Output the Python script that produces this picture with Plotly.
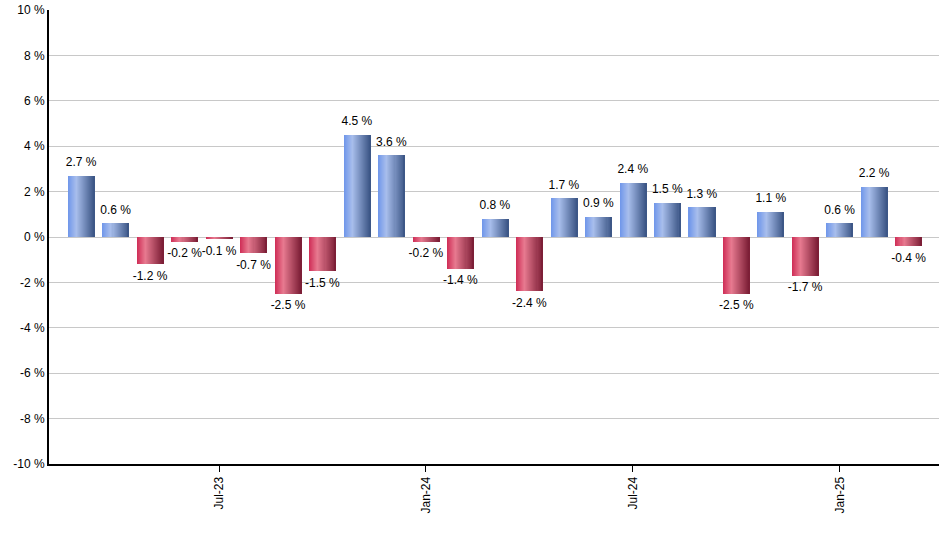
import plotly.graph_objects as go

months = ["Mar-23", "Apr-23", "May-23", "Jun-23", "Jul-23", "Aug-23", "Sep-23", "Oct-23",
          "Nov-23", "Dec-23", "Jan-24", "Feb-24", "Mar-24", "Apr-24", "May-24", "Jun-24",
          "Jul-24", "Aug-24", "Sep-24", "Oct-24", "Nov-24", "Dec-24", "Jan-25", "Feb-25", "Mar-25"]
returns = [2.7, 0.6, -1.2, -0.2, -0.1, -0.7, -2.5, -1.5, 4.5, 3.6, -0.2, -1.4, 0.8,
           -2.4, 1.7, 0.9, 2.4, 1.5, 1.3, -2.5, 1.1, -1.7, 0.6, 2.2, -0.4]
tick_months = ["Jul-23", "Jan-24", "Jul-24", "Jan-25"]
y_ticks = [-10, -8, -6, -4, -2, 0, 2, 4, 6, 8, 10]
y_tick_text = ["%d %%" % v for v in y_ticks]

blue_stops = [(0.0, (111, 150, 234)), (0.32, (168, 190, 236)), (1.0, (58, 84, 132))]
red_stops = [(0.0, (206, 44, 86)), (0.32, (231, 122, 144)), (1.0, (122, 28, 52))]


def grad(stops, t):
    for (t0, c0), (t1, c1) in zip(stops[:-1], stops[1:]):
        if t0 <= t <= t1:
            f = (t - t0) / (t1 - t0)
            c = [round(a + (b - a) * f) for a, b in zip(c0, c1)]
            return "rgb(%d,%d,%d)" % tuple(c)
    return "rgb(%d,%d,%d)" % stops[-1][1]


fig = go.Figure()
N = 26
W = 0.77
sw = W / N
for i in range(N):
    t = (i + 0.5) / N
    colors = [grad(blue_stops, t) if v >= 0 else grad(red_stops, t) for v in returns]
    width = sw if i == N - 1 else sw * 2.2
    fig.add_trace(go.Bar(
        x=months, y=returns,
        width=[width] * len(months),
        offset=[-W / 2 + i * sw] * len(months),
        marker=dict(color=colors, line=dict(width=0)),
        hoverinfo="skip" if i else "x+y",
        showlegend=False,
    ))

fig.add_trace(go.Scatter(
    x=months, y=returns, mode="markers+text",
    marker=dict(size=9, opacity=0),
    text=["%.1f %%" % v for v in returns],
    textposition=["top center" if v >= 0 else "bottom center" for v in returns],
    textfont=dict(family="Liberation Sans, Arial, sans-serif", size=12, color="#000"),
    hoverinfo="skip", showlegend=False, cliponaxis=False,
))

fig.update_layout(
    width=940, height=550,
    margin=dict(l=49, r=1, t=10, b=86),
    barmode="overlay", bargap=0,
    plot_bgcolor="white", paper_bgcolor="white",
    font=dict(family="Liberation Sans, Arial, sans-serif", size=12, color="#000"),
    xaxis=dict(
        type="category", categoryorder="array", categoryarray=months,
        range=[-0.93, len(months) - 1 + 0.88],
        tickmode="array", tickvals=tick_months, ticktext=tick_months,
        tickangle=-90, ticks="outside", ticklen=6, tickcolor="#000",
        showline=True, linecolor="#000", linewidth=2, showgrid=False, zeroline=False,
    ),
    yaxis=dict(
        range=[-10, 10], tickmode="array", tickvals=y_ticks, ticktext=y_tick_text,
        showgrid=True, gridcolor="#c8c8c8", gridwidth=1,
        zeroline=False, showline=True, linecolor="#000", linewidth=2, ticks="",
    ),
)

fig.write_html("out.html")
